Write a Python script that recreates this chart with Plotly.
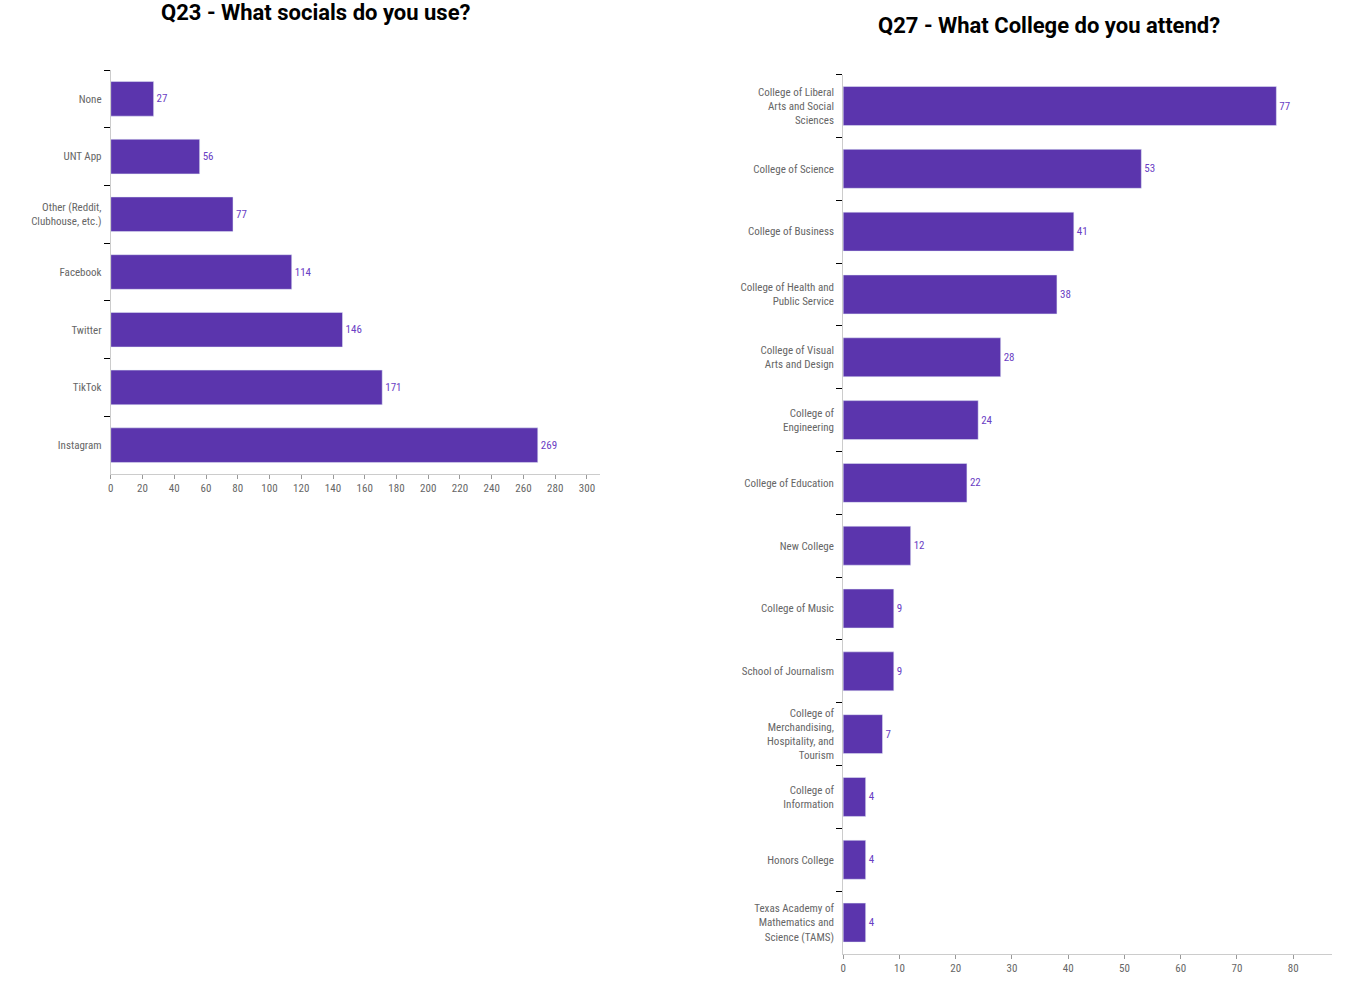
import plotly.graph_objects as go

social_cats = ["None", "UNT App", "Other (Reddit,<br>Clubhouse, etc.)", "Facebook", "Twitter", "TikTok", "Instagram"]
social_vals = [27, 56, 77, 114, 146, 171, 269]

college_cats = [
    "College of Liberal<br>Arts and Social<br>Sciences",
    "College of Science",
    "College of Business",
    "College of Health and<br>Public Service",
    "College of Visual<br>Arts and Design",
    "College of<br>Engineering",
    "College of Education",
    "New College",
    "College of Music",
    "School of Journalism",
    "College of<br>Merchandising,<br>Hospitality, and<br>Tourism",
    "College of<br>Information",
    "Honors College",
    "Texas Academy of<br>Mathematics and<br>Science (TAMS)",
]
college_vals = [77, 53, 41, 38, 28, 24, 22, 12, 9, 9, 7, 4, 4, 4]

BAR = "#5B35AD"
LABEL = "#6A40C4"
FONT = "Liberation Sans Narrow, Roboto Condensed, Arial Narrow, Roboto, sans-serif"

fig = go.Figure()
fig.add_trace(go.Bar(
    y=social_cats, x=social_vals, orientation="h", marker_color=BAR,
    text=social_vals, textposition="outside", textfont=dict(color=LABEL, size=11),
    cliponaxis=False, xaxis="x", yaxis="y", width=0.6, hoverinfo="x+y",
))
fig.add_trace(go.Bar(
    y=college_cats, x=college_vals, orientation="h", marker_color=BAR,
    text=college_vals, textposition="outside", textfont=dict(color=LABEL, size=11),
    cliponaxis=False, xaxis="x2", yaxis="y2", width=0.62, hoverinfo="x+y",
))

xcommon = dict(showgrid=False, zeroline=False, showline=True, linecolor="#cccccc",
               ticks="outside", tickcolor="#999999", ticklen=4, tickfont=dict(size=11, color="#666666"))
ycommon = dict(showgrid=False, zeroline=False, showline=True, linecolor="#cccccc",
               ticks="outside", tickson="boundaries", tickcolor="#000000", ticklen=6,
               ticklabelstandoff=6,
               tickfont=dict(size=11, color="#666666"), autorange="reversed", type="category")

fig.update_layout(
    width=1363, height=984, margin=dict(l=0, r=0, t=0, b=0),
    paper_bgcolor="white", plot_bgcolor="white", showlegend=False,
    font=dict(family=FONT, size=11, color="#666666"),
    xaxis=dict(domain=[108/1363, 598/1363], anchor="y", range=[0, 308], dtick=20, **xcommon),
    yaxis=dict(domain=[1-474/984, 1-70/984], anchor="x", **ycommon),
    xaxis2=dict(domain=[842/1363, 1332/1363], anchor="y2", range=[0, 86.9], dtick=10, **xcommon),
    yaxis2=dict(domain=[1-954/984, 1-74.6/984], anchor="x2", **ycommon),
    annotations=[
        dict(text="<b>Q23 - What socials do you use?</b>", x=314/1363, y=1-13/984, xref="paper", yref="paper",
             showarrow=False, xanchor="center", yanchor="middle", font=dict(family="Roboto", size=22, color="#000000")),
        dict(text="<b>Q27 - What College do you attend?</b>", x=1048/1363, y=1-26/984, xref="paper", yref="paper",
             showarrow=False, xanchor="center", yanchor="middle", font=dict(family="Roboto", size=22, color="#000000")),
    ],
)

fig.write_html("out.html")
